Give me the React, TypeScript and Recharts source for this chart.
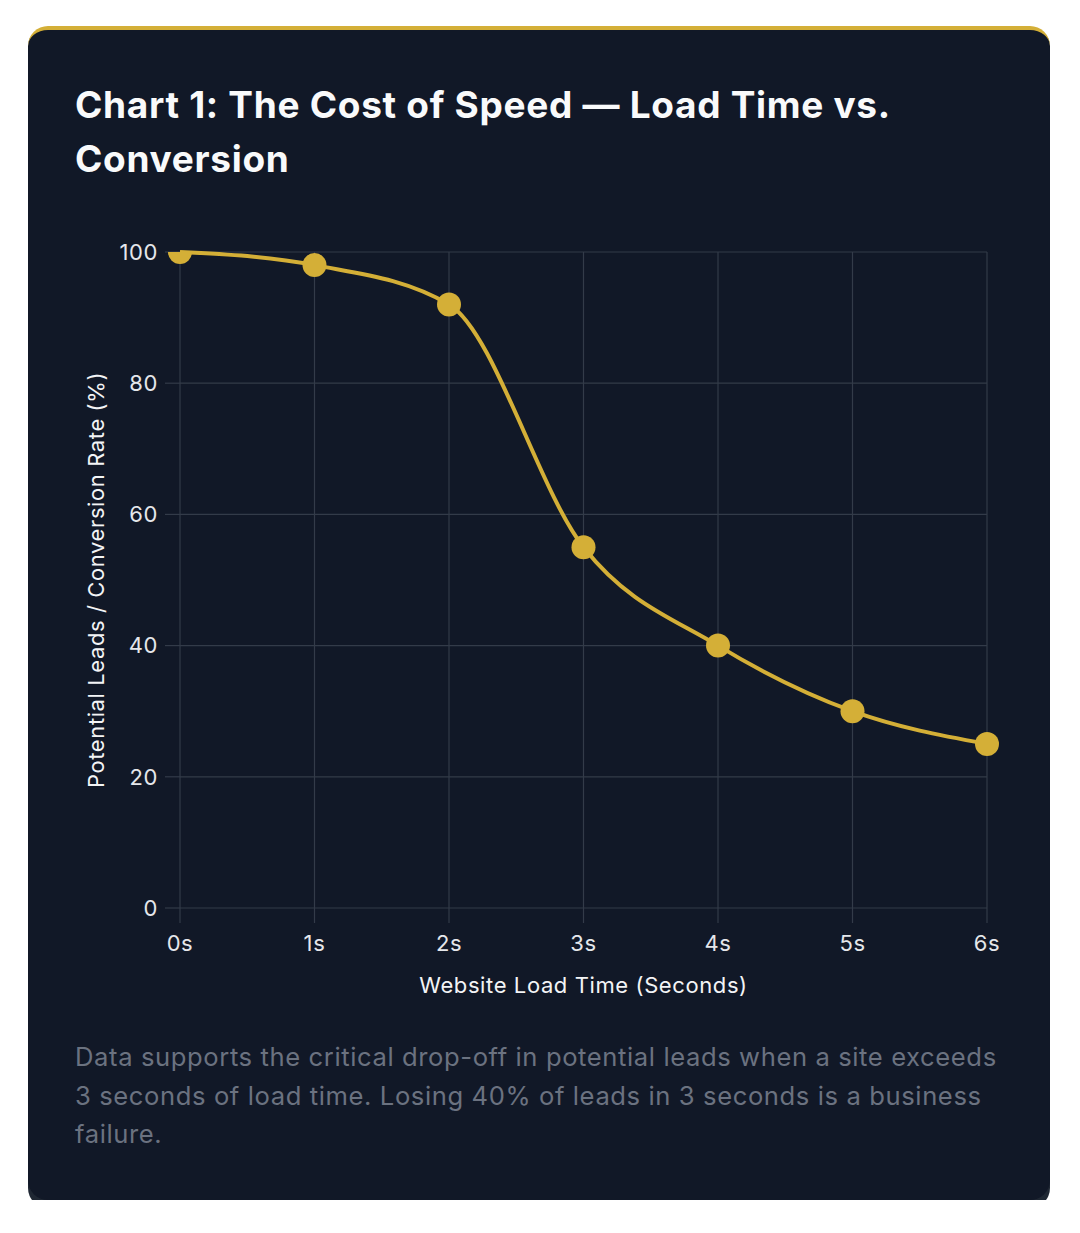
import React from 'react';
import { LineChart, Line, XAxis, YAxis, CartesianGrid, Label } from 'recharts';

const loadTimes = ['0s', '1s', '2s', '3s', '4s', '5s', '6s'];
const leadRates = [100, 98, 92, 55, 40, 30, 25];
const yTicks = [0, 20, 40, 60, 80, 100];

const GOLD = '#D4AF37';
const GRID = '#333b49';
const FONT = 'Inter, "Noto Sans", sans-serif';
const CHART_MARGIN = { top: 22, right: 16, bottom: 0, left: 0 };

const tickStyle = { fill: '#e5e7eb', fontSize: 22, fontFamily: FONT, letterSpacing: 0.6 };
const axisTitleStyle = { fill: '#f3f4f6', fontSize: 22, fontFamily: FONT, letterSpacing: 0.6 };

const data = loadTimes.map((t, i) => ({ time: t, rate: leadRates[i] }));

// points are clipped along the top edge of the plot, like the canvas chart does
function GoldDot(props: any) {
  const { cx, cy, index } = props;
  if (cx == null || cy == null) return null;
  const id = `dot-clip-${index}`;
  return (
    <g>
      <defs>
        <clipPath id={id}>
          <rect x={-2000} y={CHART_MARGIN.top} width={6000} height={4000} />
        </clipPath>
      </defs>
      <circle cx={cx} cy={cy} r={12} fill={GOLD} clipPath={`url(#${id})`} />
    </g>
  );
}

export default function App() {
  return (
    <div style={{ padding: '18px 0 0 20px', fontFamily: FONT }}>
      <div
        style={{
          width: 1022,
          boxSizing: 'border-box',
          background: '#111827',
          borderTop: `4px solid ${GOLD}`,
          borderRadius: 20,
          padding: '48px 47px 46px',
          boxShadow: '0 8px 0 #1f2733',
        }}
      >
        <div style={{ color: '#f9fafb', fontSize: 37, fontWeight: 700, lineHeight: '54px', letterSpacing: 0.7 }}>
          Chart 1: The Cost of Speed — Load Time vs. Conversion
        </div>

        <div style={{ marginTop: 44 }}>
          <LineChart width={928} height={768} data={data} margin={CHART_MARGIN}>
            <CartesianGrid stroke={GRID} strokeWidth={1.2} />
            <XAxis
              dataKey="time"
              axisLine={false}
              tickLine={{ stroke: GRID, strokeWidth: 1.2 }}
              tickSize={15}
              tickMargin={12}
              height={90}
              tick={tickStyle}
              padding={{ left: 0, right: 0 }}
            >
              <Label value="Website Load Time (Seconds)" position="insideBottom" offset={5} style={axisTitleStyle} />
            </XAxis>
            <YAxis
              domain={[0, 100]}
              ticks={yTicks}
              width={105}
              axisLine={false}
              tickLine={{ stroke: GRID, strokeWidth: 1.2 }}
              tickSize={15}
              tickMargin={7}
              tick={tickStyle}
            >
              <Label
                value="Potential Leads / Conversion Rate (%)"
                angle={-90}
                position="insideLeft"
                offset={21}
                style={{ ...axisTitleStyle, textAnchor: 'middle' }}
              />
            </YAxis>
            <Line
              type="monotone"
              dataKey="rate"
              stroke={GOLD}
              strokeWidth={4}
              dot={<GoldDot />}
              activeDot={false}
              isAnimationActive={false}
            />
          </LineChart>
        </div>

        <p style={{ margin: '40px 0 0', color: '#6b7280', fontSize: 25.6, lineHeight: '38.5px', letterSpacing: 0.6 }}>
          Data supports the critical drop-off in potential leads when a site exceeds 3 seconds of load time. Losing 40% of
          leads in 3 seconds is a business failure.
        </p>
      </div>
    </div>
  );
}
